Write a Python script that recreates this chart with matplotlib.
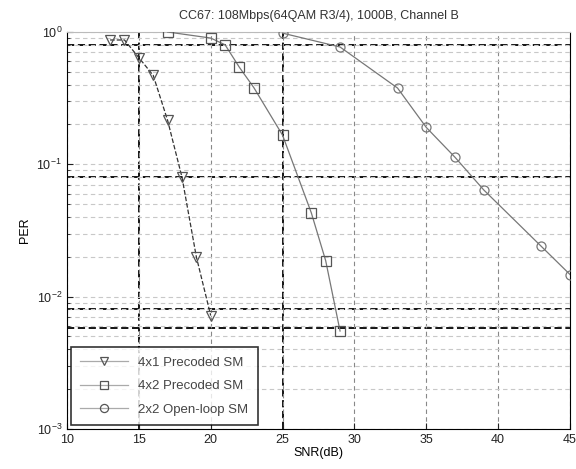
import matplotlib.pyplot as plt
import numpy as np

plt.rcParams['font.family'] = ['Liberation Sans', 'DejaVu Sans']

# 4x1 Precoded SM
snr_4x1 = [13, 14, 15, 16, 17, 18, 19, 20]
per_4x1 = [0.87, 0.87, 0.64, 0.47, 0.215, 0.08, 0.02, 0.0072]

# 4x2 Precoded SM
snr_4x2 = [17, 20, 21, 22, 23, 25, 27, 28, 29]
per_4x2 = [1.0, 0.9, 0.8, 0.54, 0.38, 0.166, 0.043, 0.0187, 0.0055]

# 2x2 Open-loop SM
snr_2x2 = [25, 29, 33, 35, 37, 39, 43, 45]
per_2x2 = [0.98, 0.77, 0.377, 0.19, 0.113, 0.064, 0.024, 0.0147]

# extra bold reference lines seen on the scan
ref_h = [0.8, 0.08, 0.008, 0.0058]
ref_v = [15, 25]

x_ticks = [10, 15, 20, 25, 30, 35, 40, 45]


def main():
    fig = plt.figure(figsize=(5.76, 4.69), dpi=100)
    ax = fig.add_axes([0.1163, 0.0853, 0.8733, 0.8465])

    ax.set_yscale('log')
    ax.set_xlim(10, 45)
    ax.set_ylim(1e-3, 1)
    ax.set_xticks(x_ticks)

    # matlab style grid
    ax.grid(True, which='major', axis='x', ls=(0, (4, 3)), color='#888888', lw=0.8)
    ax.grid(True, which='both', axis='y', ls=(0, (4, 3)), color='#c8c8c8', lw=0.8)
    for v in ref_h:
        ax.axhline(v, ls=(0, (4, 2)), color='black', lw=1.3, zorder=1)
    for v in ref_v:
        ax.axvline(v, ls=(0, (4, 2)), color='black', lw=1.3, zorder=1)

    ax.plot(snr_4x1, per_4x1, ls='--', color='#333333', lw=0.9,
            marker='v', ms=6.5, mfc='none', mec='#555555', mew=0.9,
            label='4x1 Precoded SM', zorder=3)
    ax.plot(snr_4x2, per_4x2, ls='-', color='#777777', lw=0.9,
            marker='s', ms=6.5, mfc='none', mec='#555555', mew=0.9,
            label='4x2 Precoded SM', zorder=3)
    ax.plot(snr_2x2, per_2x2, ls='-', color='#777777', lw=0.9,
            marker='o', ms=6.5, mfc='none', mec='#777777', mew=0.9,
            label='2x2 Open-loop SM', zorder=3)

    ax.tick_params(which='both', direction='in', labelsize=9, colors='#222222')
    ax.tick_params(which='minor', length=2)
    ax.tick_params(which='major', length=4)
    ax.spines['top'].set_color('#bbbbbb')

    ax.set_title('CC67: 108Mbps(64QAM R3/4), 1000B, Channel B', fontsize=9,
                 color='#333333', pad=9)
    ax.set_xlabel('SNR(dB)', fontsize=9, labelpad=1)
    ax.set_ylabel('PER', fontsize=9, labelpad=4)

    leg = ax.legend(loc='lower left', fontsize=9.5, frameon=True, fancybox=False,
                    borderaxespad=0.3, handlelength=3.6, handletextpad=0.8,
                    labelspacing=0.85, borderpad=0.7, markerscale=0.9)
    leg.get_frame().set_edgecolor('black')
    leg.get_frame().set_linewidth(1.2)
    for h in leg.legend_handles:
        h.set_color('#aaaaaa')
        h.set_linestyle('-')
        h.set_markeredgecolor('#555555')
    for t in leg.get_texts():
        t.set_color('#444444')

    plt.savefig('out.png', dpi=100)


if __name__ == '__main__':
    main()
